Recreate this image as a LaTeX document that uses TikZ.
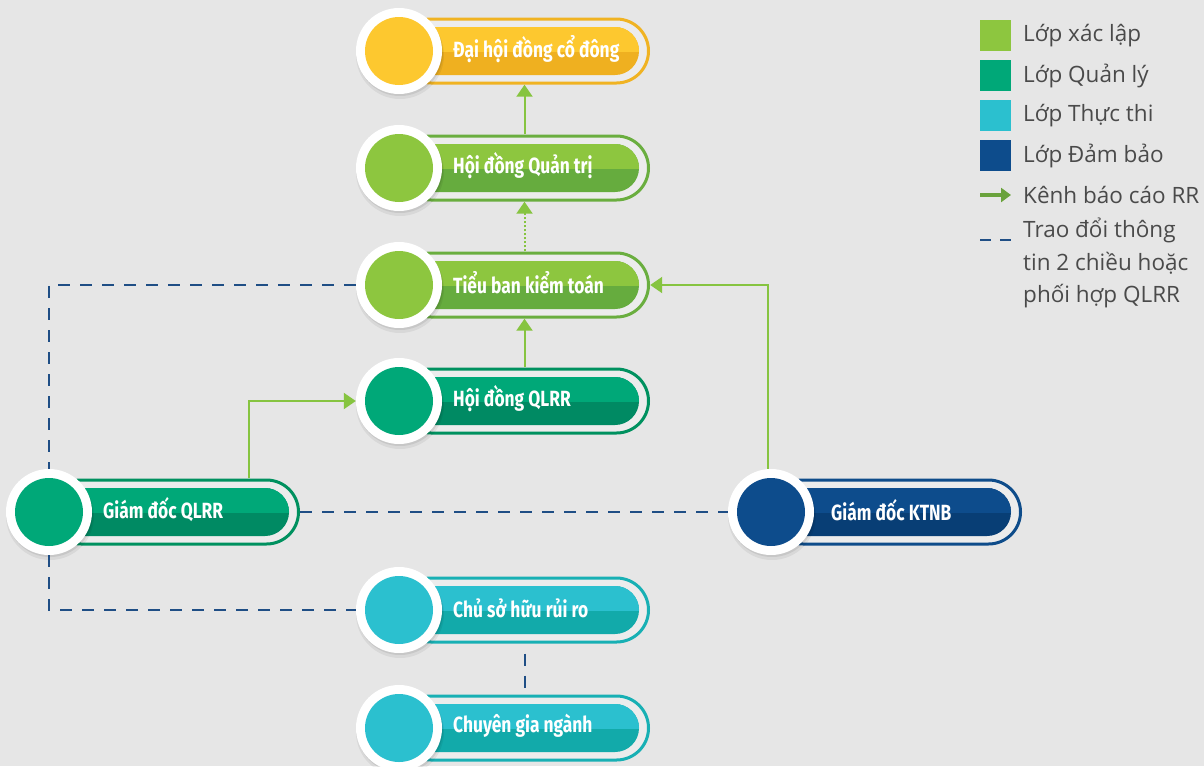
\documentclass[tikz,border=0pt]{standalone}
\usepackage{fontspec}
\usetikzlibrary{arrows.meta,calc}
\newfontfamily\nodefont{Fira Sans}[FakeStretch=0.79]
\newfontfamily\legfont{Open Sans}
\definecolor{bgc}{HTML}{E6E6E6}
\definecolor{gapc}{HTML}{ECECEC}
\definecolor{yl}{HTML}{FDC82F}\definecolor{yd}{HTML}{EFB020}\definecolor{yo}{HTML}{F0B323}
\definecolor{gl}{HTML}{8DC63F}\definecolor{gd}{HTML}{66AC3E}\definecolor{go}{HTML}{6AAE3F}
\definecolor{ml}{HTML}{00A878}\definecolor{md}{HTML}{008A63}\definecolor{mo}{HTML}{00915F}
\definecolor{cl}{HTML}{2BC0CF}\definecolor{cd}{HTML}{12AAAA}\definecolor{co}{HTML}{18B0B4}
\definecolor{nl}{HTML}{0D4C8C}\definecolor{nd}{HTML}{083E75}\definecolor{no}{HTML}{0E4C8A}
\definecolor{arrc}{HTML}{86C440}
\definecolor{legarr}{HTML}{6AA23C}
\definecolor{dashc}{HTML}{1F4E85}
\definecolor{legtxt}{HTML}{4A4A4A}
\newcommand{\mypill}[8][54]{%
 \begin{scope}[shift={(#3,#4)}]
  \node[rectangle, minimum width=251pt, minimum height=67pt, inner sep=0pt] (#2) at (125.5,0) {};
  \draw[line width=3pt, draw=#7, fill=gapc, rounded corners=32pt] (0,-32) rectangle (249.5,32);
  \fill[#6, rounded corners=24pt] (-10,-24) rectangle (240,24);
  \begin{scope}
   \clip (-20,-30) rectangle (260,0);
   \fill[#5, rounded corners=24pt] (-10,-24) rectangle (240,24);
  \end{scope}
  \fill[black, opacity=0.06] (1,4) circle[radius=44];
  \fill[black, opacity=0.08] (1,2) circle[radius=43];
  \node[circle, fill=white, minimum size=86pt, inner sep=0pt] (#2c) at (0,0) {};
  \fill[#5] (0,0) circle[radius=34];
  \node[anchor=west, text=white, font=\nodefont\bfseries\fontsize{22}{24}\selectfont, inner sep=0pt] (#2t) at (#1,-2) {#8};
 \end{scope}}
\tikzset{
 rep/.style={draw=arrc, line width=2pt, -{Triangle[width=16pt,length=12pt]}},
 coord/.style={draw=dashc, line width=2pt, dash pattern=on 12pt off 10pt},
 legtext/.style={anchor=west, text=legtxt, font=\legfont\fontsize{22.5}{32.5}\selectfont, inner sep=0pt, align=left}
}
\begin{document}
\begin{tikzpicture}[x=1pt,y=-1pt]
\fill[bgc] (0,0) rectangle (1204,766);
\useasboundingbox (0,0) rectangle (1204,766);
\mypill{dh}{399}{51}{yl}{yd}{yo}{Đại hội đồng cổ đông}
\mypill{qt}{399}{168}{gl}{gd}{go}{Hội đồng Quản trị}
\mypill{tb}{399}{285}{gl}{gd}{go}{Tiểu ban kiểm toán}
\mypill{hq}{399}{401}{ml}{md}{mo}{Hội đồng QLRR}
\mypill{gq}{49}{512}{ml}{md}{mo}{Giám đốc QLRR}
\mypill[60]{kt}{771}{512}{nl}{nd}{no}{Giám đốc KTNB}
\mypill{cs}{399}{610}{cl}{cd}{co}{Chủ sở hữu rủi ro}
\mypill{cg}{399}{728}{cl}{cd}{co}{Chuyên gia ngành}
% reporting arrows
\draw[rep] (qt.north) -- (dh.south);
\draw[rep, dash pattern=on 2pt off 2pt] (tb.north) -- (qt.south);
\draw[rep] (hq.north) -- (tb.south);
\draw[rep] ([xshift=-51pt]gq.north east) |- (hqc.west);
\draw[rep] ([xshift=-3pt]ktc.north) |- (tb.east);
% coordination lines
\draw[coord] (tbc.west) -| (gqc.north);
\draw[coord] (gqc.south) |- (csc.west);
\draw[coord] (gq.east) -- (ktc.west);
\draw[coord, dash phase=12pt] (cs.south) -- (cg.north);
% legend
\fill[gl] (980,20) rectangle (1011,51);
\fill[ml] (980,60) rectangle (1011,91);
\fill[cl] (980,100) rectangle (1011,131);
\fill[nl] (980,140) rectangle (1011,171);
\node[legtext] (l1) at (1023,35.5) {Lớp xác lập};
\node[legtext] (l2) at (1023,75.5) {Lớp Quản lý};
\node[legtext] (l3) at (1023,115.5) {Lớp Thực thi};
\node[legtext] (l4) at (1023,155.5) {Lớp Đảm bảo};
\coordinate (la1) at (980,195);
\coordinate (la2) at (1011,195);
\draw[draw=legarr, line width=4pt, -{Triangle[width=14pt,length=10pt]}] (la1) -- (la2);
\node[legtext] (l5) at (1023,195) {Kênh báo cáo RR};
\coordinate (ld1) at (980,240);
\coordinate (ld2) at (1011,240);
\draw[draw=dashc, line width=2.5pt, dash pattern=on 11pt off 9pt] (ld1) -- (ld2);
\node[legtext, anchor=north west] (l6) at (1023,218) {Trao đổi thông\\tin 2 chiều hoặc\\phối hợp QLRR};
\end{tikzpicture}
\end{document}
